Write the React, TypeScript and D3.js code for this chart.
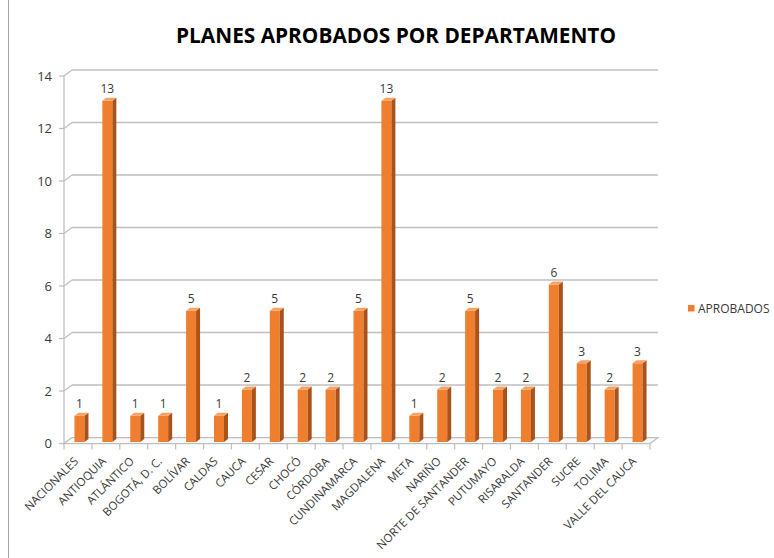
import React from "react";
import * as d3 from "d3";

const CATEGORIES = [
  "NACIONALES", "ANTIOQUIA", "ATLÁNTICO", "BOGOTÁ, D. C.", "BOLÍVAR", "CALDAS",
  "CAUCA", "CESAR", "CHOCÓ", "CÓRDOBA", "CUNDINAMARCA", "MAGDALENA", "META",
  "NARIÑO", "NORTE DE SANTANDER", "PUTUMAYO", "RISARALDA", "SANTANDER",
  "SUCRE", "TOLIMA", "VALLE DEL CAUCA",
];
const APROBADOS = [1, 13, 1, 1, 5, 1, 2, 5, 2, 2, 5, 13, 1, 2, 5, 2, 2, 6, 3, 2, 3];
const Y_TICKS = [0, 2, 4, 6, 8, 10, 12, 14];

const WIDTH = 774;
const HEIGHT = 558;
const PLOT = { left: 64, right: 650, top: 76, bottom: 443.5 };
const DEPTH = { dx: 8, dy: -6 };
const GRID = "#bfbfbf";
const TEXT = "#3a3a3a";
const FONT = "'Open Sans', 'Liberation Sans', sans-serif";

export default function App() {
  const x = d3.scaleBand<string>().domain(CATEGORIES).range([PLOT.left, PLOT.right]);
  const y = d3.scaleLinear().domain([0, 14]).range([PLOT.bottom, PLOT.top]);

  const floor = [
    [PLOT.left, PLOT.bottom],
    [PLOT.right, PLOT.bottom],
    [PLOT.right + DEPTH.dx, PLOT.bottom + DEPTH.dy],
    [PLOT.left + DEPTH.dx, PLOT.bottom + DEPTH.dy],
  ];

  const pts = (p: number[][]) => p.map((d) => d.join(",")).join(" ");

  return (
    <svg width={WIDTH} height={HEIGHT} style={{ position: "absolute", left: 0, top: 0, background: "#fff" }}>
      <line x1={8.5} x2={8.5} y1={0} y2={HEIGHT} stroke="#a6a6a6" />

      <text x={396} y={43} textAnchor="middle" fontFamily={FONT} fontWeight="bold"
        fontSize={21} fill="#000" textLength={440} lengthAdjust="spacingAndGlyphs">
        PLANES APROBADOS POR DEPARTAMENTO
      </text>

      {/* walls and gridlines */}
      <line x1={PLOT.left} x2={PLOT.left} y1={y(14)} y2={y(0)} stroke={GRID} strokeWidth={1.25} />
      {Y_TICKS.map((t) => (
        <g key={t}>
          {t > 0 && (
            <line x1={PLOT.left + DEPTH.dx} x2={PLOT.right + DEPTH.dx}
              y1={y(t) + DEPTH.dy} y2={y(t) + DEPTH.dy} stroke={GRID} strokeWidth={1.5} />
          )}
          <line x1={PLOT.left} x2={PLOT.left + DEPTH.dx} y1={y(t)} y2={y(t) + DEPTH.dy}
            stroke={GRID} strokeWidth={1.25} />
          <line x1={PLOT.left - 5} x2={PLOT.left} y1={y(t)} y2={y(t)} stroke={GRID} strokeWidth={1.25} />
          <text x={52} y={y(t)} dy="0.35em" textAnchor="end" fontFamily={FONT}
            fontSize={13} fill={TEXT}>{t}</text>
        </g>
      ))}
      <polygon points={pts(floor)} fill="#fafafa" stroke={GRID} strokeWidth={1.25} />
      {d3.range(CATEGORIES.length + 1).map((i) => {
        const xx = PLOT.left + i * x.bandwidth();
        return <line key={i} x1={xx} x2={xx} y1={PLOT.bottom} y2={PLOT.bottom + 6} stroke={GRID} strokeWidth={1.25} />;
      })}

      {/* bars */}
      {CATEGORIES.map((c, i) => {
        const cx = (x(c) as number) + x.bandwidth() / 2;
        const x0 = cx - 3.5;
        const x1 = cx + 6.5;
        const top = y(APROBADOS[i]) - 1.5;
        const bot = y(0) - 1.5;
        return (
          <g key={c}>
            <rect x={x0} y={top} width={x1 - x0} height={bot - top} fill="#ef7f2f" />
            <polygon points={pts([[x1, top], [x1 + 4, top - 3], [x1 + 4, bot - 3], [x1, bot]])} fill="#a9531b" />
            <polygon points={pts([[x0, top], [x0 + 4, top - 3], [x1 + 4, top - 3], [x1, top]])} fill="#f5a262" />
            <text x={cx + 1.5} y={y(APROBADOS[i]) - 9} textAnchor="middle" fontFamily={FONT}
              fontSize={12} fill={TEXT}>{APROBADOS[i]}</text>
          </g>
        );
      })}

      {/* category labels */}
      {CATEGORIES.map((c) => {
        const cx = (x(c) as number) + x.bandwidth() / 2;
        return (
          <text key={c} transform={`translate(${cx + 1},${462}) rotate(-45)`} textAnchor="end"
            fontFamily={FONT} fontSize={11.5} fill={TEXT}>{c}</text>
        );
      })}

      {/* legend */}
      <rect x={688} y={305} width={6.5} height={6.5} fill="#ef7f2f" />
      <text x={698} y={313} fontFamily={FONT} fontSize={12} fill={TEXT}>APROBADOS</text>
    </svg>
  );
}
